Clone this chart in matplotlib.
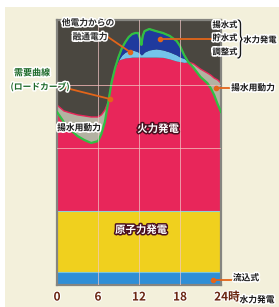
import matplotlib
matplotlib.use("Agg")
import matplotlib.pyplot as plt
import matplotlib.patheffects as pe
import matplotlib.transforms as mtrans
from matplotlib.path import Path
from matplotlib.patches import PathPatch
import numpy as np

plt.rcParams['font.family'] = ['Noto Sans CJK JP', 'DejaVu Sans']

# ---- data (output share, 0-100 scale) ----
hours = [0, 1, 2, 3, 4, 5, 6, 6.5, 7, 7.5, 8, 8.5, 9, 9.5, 10, 10.5, 11, 11.5, 11.9,
         12.2, 12.35, 12.55, 12.8, 13.5, 14.5, 15.5, 16.5, 17.5, 18, 18.6, 19.2,
         20, 21, 22, 22.5, 23, 23.5, 24]
demand = [65.3, 61.5, 58.5, 56.2, 54.7, 53.6, 54.3, 57.0, 61.5, 69.1, 76.6, 81.9, 86.0,
          89.4, 91.7, 93.6, 94.7, 95.1, 95.1, 92.5, 90.6, 94.0, 95.8, 96.6, 95.8, 95.1,
          94.0, 92.1, 90.2, 86.8, 84.2, 81.9, 78.5, 76.2, 74.3, 71.7, 68.3, 65.3]
thermal_top = [67.9, 65.7, 64.9, 64.2, 63.8, 63.4, 63.4, 64.2, 66.0, 69.1, 76.6, 81.9, 84.9,
               85.3, 85.7, 85.8, 86.0, 86.0, 86.0, 86.0, 86.0, 86.0, 86.0, 86.0, 86.0, 85.9,
               85.3, 84.5, 84.3, 84.0, 84.2, 83.4, 81.5, 80.0, 79.2, 78.1, 77.4, 76.2]
regulating_top = [67.9, 65.7, 64.9, 64.2, 63.8, 63.4, 63.4, 64.2, 66.0, 69.1, 76.6, 81.9, 84.9,
                  86.8, 87.9, 88.3, 88.7, 88.3, 87.9, 87.2, 86.8, 87.2, 87.9, 88.7, 89.1, 88.7,
                  87.9, 86.8, 86.0, 85.5, 84.2, 83.4, 81.5, 80.0, 79.2, 78.1, 77.4, 76.2]
run_of_river = 4.9
nuclear = 28.0
grid_levels = [27.9, 51.7, 75.6]
tick_hours = [0, 6, 12, 18, 24]
tick_labels = ['0', '6', '12', '18', '24時']

h = np.array(hours)
d = np.array(demand)
th = np.array(thermal_top)
rg = np.array(regulating_top)

W, H = 279, 307
fig = plt.figure(figsize=(W / 100, H / 100), dpi=100)
fig.patch.set_facecolor('white')
fig.patches.append(plt.Rectangle((5 / W, 0), 1, 1 - 7 / H, transform=fig.transFigure,
                                 facecolor='#f3f0db', edgecolor='none', zorder=-5))

ax = fig.add_axes([57 / W, 22 / H, 164 / W, 265 / H])
ax.set_zorder(1)
ax.set_xlim(0, 24)
ax.set_ylim(0, 100)
ax.set_facecolor('#4a4740')

# layers
ax.fill_between(h, 0, run_of_river, color='#2f8ed6', lw=0, zorder=1)
ax.fill_between(h, run_of_river, nuclear, color='#f0d01e', lw=0, zorder=1)
ax.fill_between(h, nuclear, th, color='#e8265a', lw=0, zorder=1)
ax.fill_between(h, th, rg, where=rg >= th, interpolate=True, color='#74c4ea', lw=0, zorder=1)
ax.fill_between(h, rg, d, where=d >= rg, interpolate=True, color='#1f3a9e', lw=0, zorder=1)
ax.fill_between(h, d, th, where=th >= d, interpolate=True, color='#b3b2a2', lw=0, zorder=1)
ax.plot(h, np.maximum(th, d), color='#e8265a', lw=1.0, zorder=2)
ax.plot(h, d, color='#2fc043', lw=1.6, zorder=3)

# boundaries between base layers
ax.axhline(run_of_river, color='#7cc6d8', lw=0.8, zorder=2)
ax.axhline(nuclear, color='#8fd0d8', lw=0.8, zorder=2)

# grid
for g in grid_levels[1:]:
    ax.axhline(g, color='#f2b8b8', lw=0.7, alpha=0.8, zorder=4)
for t in tick_hours[1:-1]:
    ax.axvline(t, color='#f2c8c8', lw=0.7, alpha=0.7, zorder=4)

for s in ax.spines.values():
    s.set_color('#858580')
    s.set_linewidth(1.6)
ax.set_yticks([])
ax.set_xticks(tick_hours)
ax.set_xticklabels(tick_labels)
ax.tick_params(axis='x', length=0, pad=4)
for lab in ax.get_xticklabels():
    lab.set_fontsize(8.5)
    lab.set_fontweight('bold')
    lab.set_color('#6a2612')
    lab.set_path_effects([pe.withStroke(linewidth=1.5, foreground='white')])
last = ax.get_xticklabels()[-1]
last.set_transform(last.get_transform() + mtrans.ScaledTranslation(6 / 100, 0, fig.dpi_scale_trans))

white_outline = [pe.withStroke(linewidth=2.2, foreground='white')]
dark_outline = [pe.withStroke(linewidth=2.2, foreground='#4a1020')]
orange = '#e2651a'

def fx(x):
    return x / W

def fy(y):
    return 1 - y / H

def ftext(x, y, s, **kw):
    fig.text(fx(x), fy(y), s, **kw)

def fline(x0, y0, x1, y1):
    fig.lines.append(plt.Line2D([fx(x0), fx(x1)], [fy(y0), fy(y1)],
                                transform=fig.transFigure, color=orange, lw=1.3, zorder=10))
    fig.lines.append(plt.Line2D([fx(x1)], [fy(y1)], transform=fig.transFigure,
                                marker='o', ms=3, color=orange, zorder=10))

# annotations
fline(108, 37, 130, 52)
ftext(88, 23, '他電力からの', fontsize=6.3, fontweight='bold', color='#2a2a2a',
      ha='center', va='center', path_effects=white_outline, zorder=11)
ftext(90, 37, '融通電力', fontsize=6.3, fontweight='bold', color='#2a2a2a',
      ha='center', va='center', path_effects=white_outline, zorder=11)

fline(66, 88, 110, 99)
ftext(32, 73, '需要曲線', fontsize=6.5, fontweight='bold', color='#1d6a2a',
      ha='center', va='center', path_effects=white_outline, zorder=11)
ftext(40, 87, '(ロードカーブ)', fontsize=6.3, fontweight='bold', color='#1d6a2a',
      ha='center', va='center', path_effects=white_outline, zorder=11)

ftext(79, 128, '揚水用動力', fontsize=6.3, fontweight='bold', color='#1a1a1a',
      ha='center', va='center', path_effects=white_outline, zorder=11)

ftext(158, 129, '火力発電', fontsize=7.5, fontweight='bold', color='white',
      ha='center', va='center', path_effects=dark_outline, zorder=11)
ftext(141, 230, '原子力発電', fontsize=7.5, fontweight='bold', color='white',
      ha='center', va='center', path_effects=dark_outline, zorder=11)

fline(212, 39, 160, 39)
for yy, s in [(25, '揚水式'), (38, '貯水式'), (52, '調整式')]:
    ftext(225, yy, s, fontsize=6.0, fontweight='bold', color='#1a1a1a',
          ha='center', va='center', path_effects=white_outline, zorder=11)

# curly brace
x0, xm, xt = 237.5, 240.5, 243.5
yt, ym, yb = 20, 39, 58
verts = [(x0, yt), (xm, yt), (xm, yt + 4), (xm, ym - 4), (xm, ym), (xt, ym),
         (xm, ym), (xm, ym + 4), (xm, yb - 4), (xm, yb), (x0, yb)]
codes = [Path.MOVETO, Path.CURVE3, Path.CURVE3, Path.LINETO, Path.CURVE3, Path.CURVE3,
         Path.CURVE3, Path.CURVE3, Path.LINETO, Path.CURVE3, Path.CURVE3]
brace = PathPatch(Path([(fx(a), fy(b)) for a, b in verts], codes), transform=fig.transFigure,
                  facecolor='none', edgecolor='#1a1a1a', lw=1.0, zorder=11,
                  path_effects=[pe.withStroke(linewidth=2.5, foreground='white')])
fig.patches.append(brace)

ftext(260, 40, '水力発電', fontsize=6.0, fontweight='bold', color='#1a1a1a',
      ha='center', va='center', path_effects=white_outline, zorder=11)

fline(231, 88, 216, 88)
ftext(253, 88, '揚水用動力', fontsize=6.3, fontweight='bold', color='#1a1a1a',
      ha='center', va='center', path_effects=white_outline, zorder=11)

fline(235, 280, 213, 280)
ftext(246, 278, '流込式', fontsize=6.3, fontweight='bold', color='#1a1a1a',
      ha='center', va='center', path_effects=white_outline, zorder=11)
ftext(257, 300, '水力発電', fontsize=6.3, fontweight='bold', color='#1a1a1a',
      ha='center', va='center', path_effects=white_outline, zorder=11)

fig.savefig('out.png', dpi=100, facecolor=fig.get_facecolor())
